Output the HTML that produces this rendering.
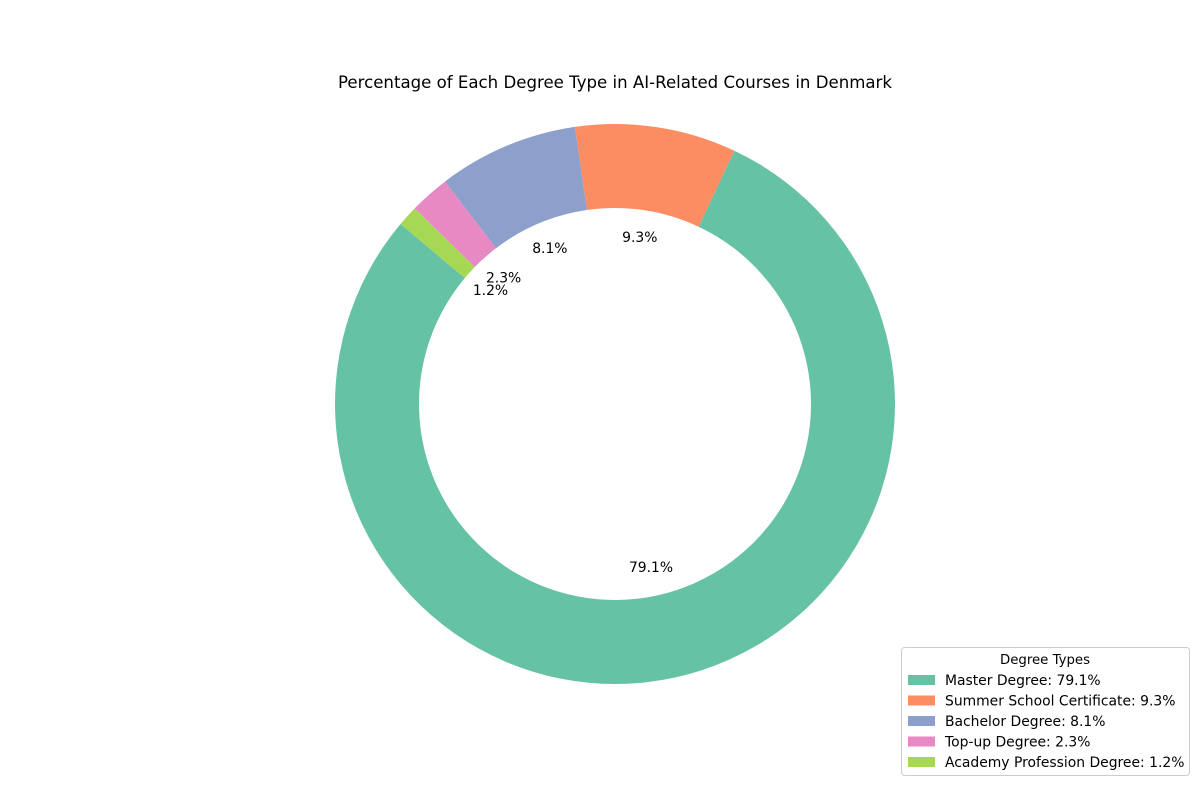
<!DOCTYPE html>
<html><head><meta charset="utf-8"><style>body{margin:0;background:#fff}svg{display:block;font-family:"DejaVu Sans","Liberation Sans",sans-serif}</style></head>
<body>
<svg id="chart" width="1200" height="800">
<text x="615" y="88" text-anchor="middle" font-size="16.6">Percentage of Each Degree Type in AI-Related Courses in Denmark</text>
<g id="slices"></g>
<g id="labels"></g>
<g>
<rect x="901.5" y="647.5" width="288" height="128" rx="3" fill="#fff" stroke="#ccc"/>
<text x="1045" y="664" text-anchor="middle" font-size="13.3">Degree Types</text>
<g id="legend-items"></g>
</g>
</svg>
<script>
const categories=["Master Degree","Summer School Certificate","Bachelor Degree","Top-up Degree","Academy Profession Degree"];
const values=[79.1,9.3,8.1,2.3,1.2];
const colors=["#66c2a5","#fc8d62","#8da0cb","#e78ac3","#a6d854"];
const NS="http://www.w3.org/2000/svg";
const cx=615,cy=404,R=280,r=196,start=140;
const total=values.reduce((a,b)=>a+b,0);
function pt(a,rad){const t=a*Math.PI/180;return [cx+rad*Math.cos(t),cy-rad*Math.sin(t)];}
let a0=start;
const sg=document.getElementById('slices'),lg=document.getElementById('labels'),li=document.getElementById('legend-items');
values.forEach((v,i)=>{
 const span=v/total*360,a1=a0+span,large=span>180?1:0;
 const [x0,y0]=pt(a0,R),[x1,y1]=pt(a1,R),[x2,y2]=pt(a1,r),[x3,y3]=pt(a0,r);
 const p=document.createElementNS(NS,'path');
 p.setAttribute('d',`M${x0},${y0} A${R},${R} 0 ${large} 0 ${x1},${y1} L${x2},${y2} A${r},${r} 0 ${large} 1 ${x3},${y3} Z`);
 p.setAttribute('fill',colors[i]);
 
 
 sg.appendChild(p);
 const [lx,ly]=pt(a0+span/2,R*0.6);
 const t=document.createElementNS(NS,'text');
 t.setAttribute('x',lx);t.setAttribute('y',ly+4);t.setAttribute('text-anchor','middle');t.setAttribute('font-size','13.9');
 t.textContent=v.toFixed(1)+'%';
 
 
 lg.appendChild(t);
 const y=680+i*20.5;
 const rc=document.createElementNS(NS,'rect');
 rc.setAttribute('x',908);rc.setAttribute('y',y-5);rc.setAttribute('width',27);rc.setAttribute('height',10);rc.setAttribute('fill',colors[i]);
 
 
 li.appendChild(rc);
 const lt=document.createElementNS(NS,'text');
 lt.setAttribute('x',945);lt.setAttribute('y',y+5);lt.setAttribute('font-size','13.9');
 lt.textContent=categories[i]+': '+v.toFixed(1)+'%';
 
 
 li.appendChild(lt);
 a0=a1;
});
</script>
</body></html>
